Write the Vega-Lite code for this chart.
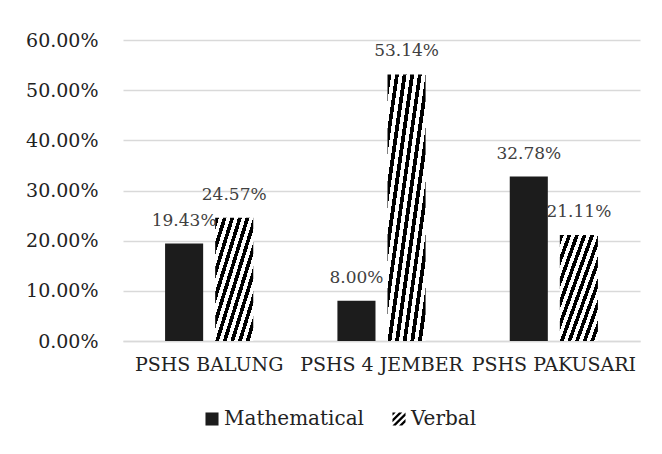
{
  "$schema": "https://vega.github.io/schema/vega-lite/v6.json",
  "autosize": {"type": "none"},
  "padding": {"left": 123, "top": 40, "right": 22, "bottom": 113},
  "width": 517,
  "height": 301,
  "background": "white",
  "data": {
    "values": [
      {"school": "PSHS BALUNG", "type": "Mathematical", "value": 0.1943},
      {"school": "PSHS BALUNG", "type": "Verbal", "value": 0.2457},
      {"school": "PSHS 4 JEMBER", "type": "Mathematical", "value": 0.08},
      {"school": "PSHS 4 JEMBER", "type": "Verbal", "value": 0.5314},
      {"school": "PSHS PAKUSARI", "type": "Mathematical", "value": 0.3278},
      {"school": "PSHS PAKUSARI", "type": "Verbal", "value": 0.2111}
    ]
  },
  "encoding": {
    "x": {
      "field": "school", "type": "nominal", "sort": null, "title": null,
      "scale": {"paddingInner": 0, "paddingOuter": 0},
      "axis": {"labelAngle": 0, "ticks": false, "domainColor": "#d9d9d9", "domainWidth": 1.3, "labelPadding": 14, "labelFontSize": 19, "labelFont": "DejaVu Serif", "labelColor": "#222222"}
    },
    "xOffset": {
      "field": "type", "type": "nominal", "sort": ["Mathematical", "Verbal"],
      "scale": {"paddingInner": 0.24, "paddingOuter": 0.84}
    },
    "y": {
      "field": "value", "type": "quantitative", "title": null,
      "scale": {"domain": [0, 0.6], "nice": false},
      "axis": {"values": [0, 0.1, 0.2, 0.3, 0.4, 0.5, 0.6], "format": ".2%", "ticks": false, "domain": false, "labelPadding": 25, "gridColor": "#d9d9d9", "gridWidth": 1.3, "labelFontSize": 19, "labelFont": "DejaVu Serif", "labelColor": "#222222"}
    }
  },
  "layer": [
    {
      "mark": {"type": "bar"},
      "encoding": {
        "fill": {
          "condition": {"test": "datum.type === 'Verbal'", "value": {"gradient": "linear", "x1": 0, "y1": 0, "x2": 1, "y2": 1, "stops": [
            {"offset": 0, "color": "#000"}, {"offset": 0.05, "color": "#000"}, {"offset": 0.05, "color": "#fff"}, {"offset": 0.1, "color": "#fff"},
            {"offset": 0.1, "color": "#000"}, {"offset": 0.15, "color": "#000"}, {"offset": 0.15, "color": "#fff"}, {"offset": 0.2, "color": "#fff"},
            {"offset": 0.2, "color": "#000"}, {"offset": 0.25, "color": "#000"}, {"offset": 0.25, "color": "#fff"}, {"offset": 0.3, "color": "#fff"},
            {"offset": 0.3, "color": "#000"}, {"offset": 0.35, "color": "#000"}, {"offset": 0.35, "color": "#fff"}, {"offset": 0.4, "color": "#fff"},
            {"offset": 0.4, "color": "#000"}, {"offset": 0.45, "color": "#000"}, {"offset": 0.45, "color": "#fff"}, {"offset": 0.5, "color": "#fff"},
            {"offset": 0.5, "color": "#000"}, {"offset": 0.55, "color": "#000"}, {"offset": 0.55, "color": "#fff"}, {"offset": 0.6, "color": "#fff"},
            {"offset": 0.6, "color": "#000"}, {"offset": 0.65, "color": "#000"}, {"offset": 0.65, "color": "#fff"}, {"offset": 0.7, "color": "#fff"},
            {"offset": 0.7, "color": "#000"}, {"offset": 0.75, "color": "#000"}, {"offset": 0.75, "color": "#fff"}, {"offset": 0.8, "color": "#fff"},
            {"offset": 0.8, "color": "#000"}, {"offset": 0.85, "color": "#000"}, {"offset": 0.85, "color": "#fff"}, {"offset": 0.9, "color": "#fff"},
            {"offset": 0.9, "color": "#000"}, {"offset": 0.95, "color": "#000"}, {"offset": 0.95, "color": "#fff"}, {"offset": 1, "color": "#fff"}
          ]}},
          "value": "#1c1c1c"
        }
      }
    },
    {
      "mark": {"type": "point", "filled": true, "opacity": 0, "size": 1},
      "encoding": {
        "fill": {
          "field": "type", "type": "nominal", "title": null,
          "scale": {"domain": ["Mathematical", "Verbal"], "range": ["#1c1c1c", "#000000"]},
          "legend": {
            "orient": "none", "legendX": 79, "legendY": 369, "direction": "horizontal",
            "symbolSize": 170, "symbolStrokeWidth": 0, "symbolOpacity": 1,
            "labelFontSize": 20, "labelFont": "DejaVu Serif", "labelColor": "#222222",
            "columnPadding": 25, "labelOffset": 2
          }
        },
        "shape": {
          "field": "type", "type": "nominal", "title": null,
          "scale": {"domain": ["Mathematical", "Verbal"], "range": ["square", "M-1,-1L-0.5,-1L-1,-0.5Z M0,-1L0.5,-1L-1,0.5L-1,0Z M-1,1L1,-1L1,-0.5L-0.5,1Z M1,0L1,0.5L0.5,1L0,1Z"]},
          "legend": {
            "orient": "none", "legendX": 79, "legendY": 369, "direction": "horizontal",
            "symbolSize": 170, "symbolStrokeWidth": 0, "symbolOpacity": 1,
            "labelFontSize": 20, "labelFont": "DejaVu Serif", "labelColor": "#222222",
            "columnPadding": 25, "labelOffset": 2
          }
        }
      }
    },
    {
      "mark": {"type": "text", "dy": -18, "baseline": "alphabetic", "fontSize": 17, "font": "DejaVu Serif", "color": "#404040"},
      "encoding": {
        "text": {"field": "value", "type": "quantitative", "format": ".2%"}
      }
    }
  ],
  "config": {"view": {"stroke": null}}
}
